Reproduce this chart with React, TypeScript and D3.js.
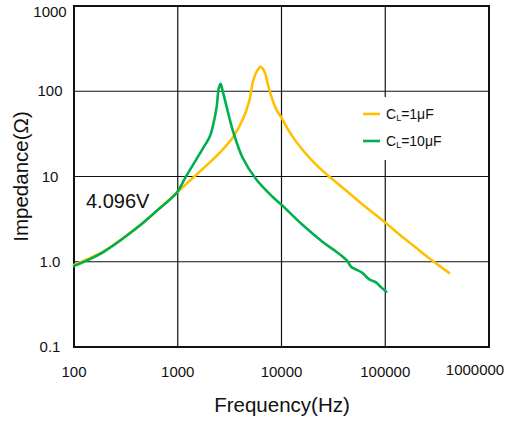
import React from "react";
import * as d3 from "d3";

const xTicks = [100, 1000, 10000, 100000, 1000000];
const xTickLabels = ["100", "1000", "10000", "100000", "1000000"];
const yTicks = [0.1, 1, 10, 100, 1000];
const yTickLabels = ["0.1", "1.0", "10", "100", "1000"];

const freq1uF = [100, 190, 404, 628, 978, 1304, 1629, 2535, 3380, 4218, 4925, 5263, 5750, 6280, 6870, 7330, 8010, 8950, 10000, 11940, 15920, 23190, 28940, 42170, 60080, 97800, 145600, 198400, 264800, 330400, 412300];
const imp1uF = [0.92, 1.31, 2.5, 3.96, 6.44, 8.91, 11.4, 18.9, 28.4, 46.2, 79.3, 125, 169, 193, 169, 125, 86, 60.5, 48.8, 33.4, 20.6, 12.6, 9.92, 6.8, 4.72, 2.94, 1.96, 1.46, 1.1, 0.9, 0.74];

const freq10uF = [100, 190, 404, 628, 978, 1167, 1393, 1739, 2032, 2172, 2373, 2480, 2590, 2709, 2960, 3380, 4218, 5750, 8190, 10000, 15920, 24790, 33800, 42170, 47100, 52600, 60080, 70200, 81900, 91500, 102300];
const imp10uF = [0.89, 1.29, 2.5, 3.96, 6.44, 9.4, 13.5, 21.1, 29.2, 38.3, 65.6, 107, 122, 101, 65.6, 35.3, 16.6, 9.15, 5.78, 4.66, 2.71, 1.72, 1.31, 1.05, 0.87, 0.81, 0.74, 0.62, 0.57, 0.5, 0.445];

const seriesNames = ["1μF", "10μF"];
const seriesColors = ["#FFC000", "#00B050"];

export default function App() {
  const W = 508, H = 422;
  const left = 74, right = 489, top = 6, bottom = 347;
  const x = d3.scaleLog().domain([100, 1000000]).range([left, right]);
  const y = d3.scaleLog().domain([0.1, 1000]).range([bottom, top]);
  const line = d3
    .line<[number, number]>()
    .x((d) => x(d[0]))
    .y((d) => y(d[1]))
    .curve(d3.curveCatmullRom.alpha(0.5));
  const series = [
    freq1uF.map((f, i) => [f, imp1uF[i]] as [number, number]),
    freq10uF.map((f, i) => [f, imp10uF[i]] as [number, number]),
  ];
  const font = "'Liberation Sans', Arial, sans-serif";
  return (
    <svg width={W} height={H} style={{ position: "absolute", left: 0, top: 0, background: "#fff" }} fontFamily={font}>
      <rect x={0} y={0} width={W} height={H} fill="#fff" />
      {xTicks.slice(1, -1).map((t) => (
        <line key={"vx" + t} x1={x(t)} x2={x(t)} y1={top} y2={bottom} stroke="#111" strokeWidth={1.2} />
      ))}
      {yTicks.slice(1, -1).map((t) => (
        <line key={"hy" + t} x1={left} x2={right} y1={y(t)} y2={y(t)} stroke="#111" strokeWidth={1.2} />
      ))}
      <rect x={352} y={97} width={135} height={63} fill="#fff" />
      <rect x={left} y={top} width={right - left} height={bottom - top} fill="none" stroke="#111" strokeWidth={2} />
      {series.map((s, i) => (
        <path key={"s" + i} d={line(s) || ""} fill="none" stroke={seriesColors[i]} strokeWidth={2.6} strokeLinejoin="round" strokeLinecap="round" />
      ))}
      {yTicks.map((t, i) => (
        <text key={"yl" + t} x={50} y={Math.max(y(t), 12) + 5} textAnchor="middle" fontSize={15} fill="#111">
          {yTickLabels[i]}
        </text>
      ))}
      {xTicks.map((t, i) => (
        <text key={"xl" + t} x={Math.min(x(t), 475)} y={i === xTicks.length - 1 ? 375 : 377} textAnchor="middle" fontSize={15} fill="#111">
          {xTickLabels[i]}
        </text>
      ))}
      <text x={282} y={412} textAnchor="middle" fontSize={20.5} fill="#111">Frequency(Hz)</text>
      <text transform="translate(28,176.5) rotate(-90)" textAnchor="middle" fontSize={20.5} fill="#111">Impedance(Ω)</text>
      <text x={86} y={208} fontSize={20} fill="#111">4.096V</text>
      {seriesNames.map((n, i) => (
        <g key={"lg" + i}>
          <line x1={363} x2={380} y1={114 + i * 27} y2={114 + i * 27} stroke={seriesColors[i]} strokeWidth={2.6} />
          <text x={386} y={119 + i * 27} fontSize={14} fill="#111">
            C<tspan fontSize={9} dy={2}>L</tspan>
            <tspan dy={-2}>={n}</tspan>
          </text>
        </g>
      ))}
    </svg>
  );
}
